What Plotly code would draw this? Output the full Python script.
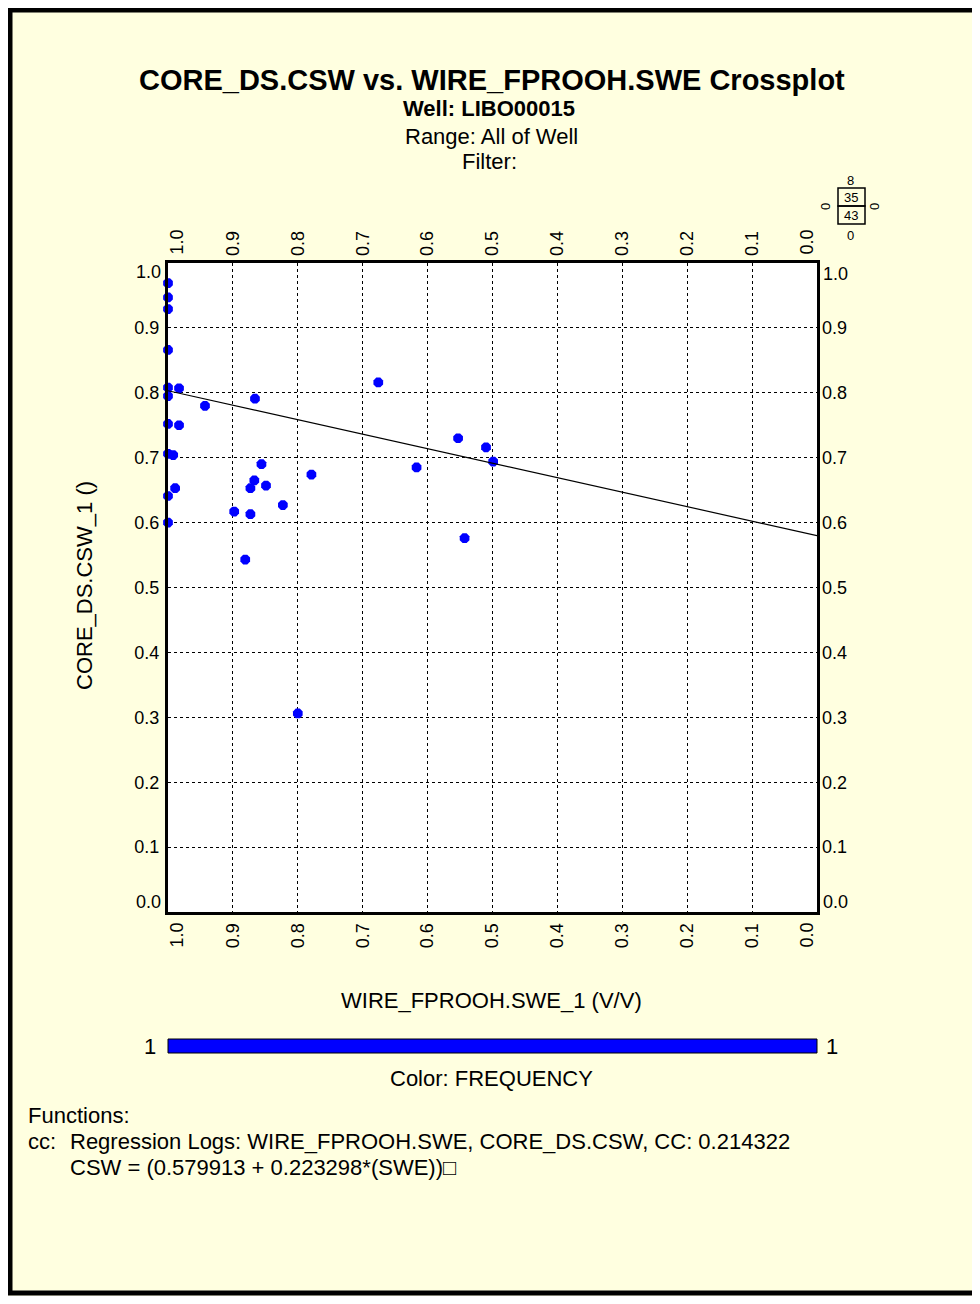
import plotly.graph_objects as go

# Crossplot samples: WIRE_FPROOH.SWE (x) vs CORE_DS.CSW (y)
swe = [1.0, 1.0, 1.0, 1.0, 1.0, 1.0, 0.983, 0.943, 0.866, 1.0, 0.983, 1.0, 0.992,
       0.989, 1.0, 1.0, 0.856, 0.867, 0.873, 0.849, 0.898, 0.873, 0.823, 0.779,
       0.881, 0.800, 0.676, 0.553, 0.510, 0.499, 0.617, 0.543]
csw = [0.969, 0.947, 0.929, 0.866, 0.808, 0.795, 0.807, 0.780, 0.791, 0.752, 0.750,
       0.706, 0.704, 0.653, 0.641, 0.600, 0.690, 0.665, 0.653, 0.657, 0.617, 0.613,
       0.627, 0.674, 0.543, 0.306, 0.816, 0.730, 0.716, 0.694, 0.685, 0.576]

# Regression: CSW = a + b*SWE
reg_a = 0.579913
reg_b = 0.223298
reg_cc = 0.214322
fit_x = [0.0, 1.0]
fit_y = [reg_a + reg_b * v for v in fit_x]

tick_vals = [round(i * 0.1, 1) for i in range(11)]
# end labels (0.0 / 1.0) are drawn separately, nudged inside the frame
tick_text = [""] + ["%.1f" % v for v in tick_vals[1:-1]] + [""]
end_labels = ["0.0", "1.0"]

# screen geometry (page body adds an 8px margin)
OFF = 8
SW, SH = 980, 1304
FIG_H = SH - 2 * OFF
L, R, T, B = 168, 817, 263, 912
FONT = "Liberation Sans, Arial, sans-serif"
BG = "#FFFFE0"


def px(x):
    return (x - L) / (R - L)


def py(y):
    return (B - y) / (B - T)


fig = go.Figure()
fig.add_trace(go.Scatter(
    x=swe, y=csw, mode="markers",
    marker=dict(color="#0000FF", size=10.5, symbol="octagon", line=dict(width=0)),
    cliponaxis=False, showlegend=False))
fig.add_trace(go.Scatter(
    x=fit_x, y=fit_y, mode="lines",
    line=dict(color="black", width=1.2), showlegend=False))
# invisible trace so the top/right axes get drawn
fig.add_trace(go.Scatter(x=[0.5], y=[0.5], xaxis="x2", yaxis="y2",
                         mode="markers", marker=dict(opacity=0), showlegend=False,
                         hoverinfo="skip"))

tickfont = dict(family=FONT, size=18, color="black")
axis_common = dict(
    tickvals=tick_vals, ticktext=tick_text, ticks="", tickfont=tickfont,
    showgrid=True, gridcolor="black", gridwidth=1, griddash="dot",
    zeroline=False, showline=True, linecolor="black", linewidth=3,
)

fig.update_layout(
    width=SW - OFF, height=FIG_H,
    margin=dict(l=L - OFF, r=SW - R, t=T - OFF, b=FIG_H + OFF - B, autoexpand=False),
    paper_bgcolor=BG, plot_bgcolor="white",
    font=dict(family=FONT, color="black"),
    xaxis=dict(range=[1.0, 0.0], tickangle=-90, mirror=True,
               ticklabelstandoff=1, **axis_common),
    yaxis=dict(range=[0.0, 1.0], mirror=True, ticklabelstandoff=2, **axis_common),
    xaxis2=dict(range=[1.0, 0.0], overlaying="x", side="top", anchor="y",
                tickangle=-90, tickvals=tick_vals, ticktext=tick_text,
                tickfont=tickfont, ticklabelstandoff=6,
                showgrid=False, zeroline=False, showline=False),
    yaxis2=dict(range=[0.0, 1.0], overlaying="y", side="right", anchor="x",
                tickvals=tick_vals, ticktext=tick_text,
                tickfont=tickfont, ticklabelstandoff=4,
                showgrid=False, zeroline=False, showline=False),
)

ann = []


def text(x, y, s, size=22, bold=False, xanchor="center", yanchor="middle", angle=0):
    ann.append(dict(
        x=px(x), y=py(y), xref="paper", yref="paper", showarrow=False,
        text="<b>%s</b>" % s if bold else s, xanchor=xanchor, yanchor=yanchor,
        textangle=angle, font=dict(family=FONT, size=size, color="black")))


# nudged end tick labels
text(176, 921, end_labels[1], size=18, yanchor="top", angle=-90)
text(806, 921, end_labels[0], size=18, yanchor="top", angle=-90)
text(176, 257, end_labels[1], size=18, yanchor="bottom", angle=-90)
text(806, 257, end_labels[0], size=18, yanchor="bottom", angle=-90)
text(163, 272, end_labels[1], size=18, xanchor="right")
text(163, 902, end_labels[0], size=18, xanchor="right")
text(821, 274, end_labels[1], size=18, xanchor="left")
text(821, 902, end_labels[0], size=18, xanchor="left")

text(492, 80, "CORE_DS.CSW vs. WIRE_FPROOH.SWE Crossplot", size=29, bold=True)
text(489, 109, "Well: LIBO00015", size=22, bold=True)
text(491, 136, "Range: All of Well", size=22)
text(489, 161, "Filter:", size=22)
text(84, 586, "CORE_DS.CSW_1 ()", size=22, angle=-90)
text(491, 1000, "WIRE_FPROOH.SWE_1 (V/V)", size=22)
text(150, 1046, "1", size=22)
text(832, 1046, "1", size=22)
text(491, 1078, "Color: FREQUENCY", size=22)
text(26, 1115, "Functions:", size=22, xanchor="left")
text(26, 1141, "cc:", size=22, xanchor="left")
text(68, 1141, "Regression Logs: WIRE_FPROOH.SWE, CORE_DS.CSW, CC: %g" % reg_cc,
     size=22, xanchor="left")
text(68, 1167, "CSW = (%g + %g*(SWE))\u25a1" % (reg_a, reg_b), size=22, xanchor="left")

# small count box, top right
text(851, 180, "8", size=13)
text(851, 197, "35", size=13)
text(851, 215, "43", size=13)
text(851, 235, "0", size=13)
text(826, 207, "0", size=13, angle=-90)
text(875, 207, "0", size=13, angle=-90)

shapes = [
    # page frame
    dict(type="rect", xref="paper", yref="paper", x0=px(10), x1=px(976), y0=py(10),
         y1=py(FIG_H + OFF - 3), line=dict(color="black", width=5)),
    # frequency color bar
    dict(type="rect", xref="paper", yref="paper", x0=px(168), x1=px(817),
         y0=py(1039), y1=py(1053), fillcolor="#0000FF", line=dict(color="black", width=1)),
    # count boxes
    dict(type="rect", xref="paper", yref="paper", x0=px(838), x1=px(865),
         y0=py(188), y1=py(206), line=dict(color="black", width=1.5)),
    dict(type="rect", xref="paper", yref="paper", x0=px(838), x1=px(865),
         y0=py(206), y1=py(224), line=dict(color="black", width=1.5)),
]

fig.update_layout(annotations=ann, shapes=shapes)
fig.write_html("out.html")
